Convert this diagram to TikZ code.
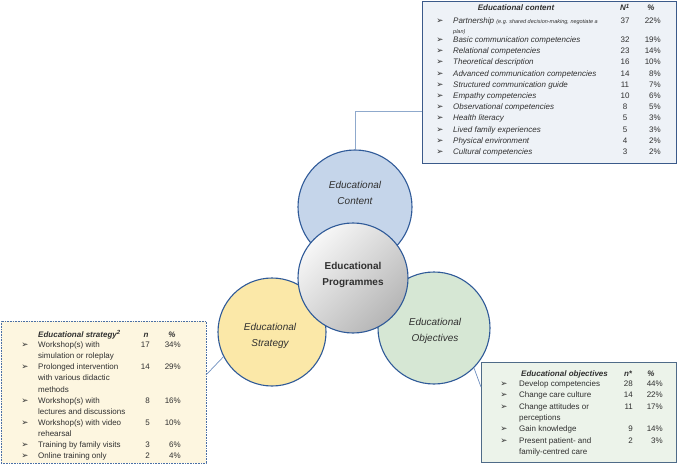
\documentclass[tikz,border=0pt]{standalone}
\usepackage{fontspec}
\setmainfont{Liberation Sans}
\newfontfamily\dv{DejaVu Sans}
\definecolor{txt}{HTML}{303030}
\definecolor{cfill}{HTML}{C5D5EA}
\definecolor{sfill}{HTML}{FBE8A8}
\definecolor{ofill}{HTML}{D6E7D4}
\definecolor{cborder}{HTML}{2F5A98}
\definecolor{cboxfill}{HTML}{EEF2F7}
\definecolor{cboxline}{HTML}{3B5A8A}
\definecolor{sboxfill}{HTML}{FDF6E0}
\definecolor{sboxline}{HTML}{4A6FA5}
\definecolor{oboxfill}{HTML}{ECF3EA}
\definecolor{oboxline}{HTML}{4F6B88}
\definecolor{conn}{HTML}{8FA9CC}
\definecolor{conn2}{HTML}{6F8FBF}
\tikzset{
  circ/.style={circle, draw=cborder, line width=1.1pt, inner sep=0},
  clabel/.style={align=center, text=txt, font=\itshape\fontsize{10}{15.5}\selectfont, inner sep=0},
  mlabel/.style={align=center, text=txt, font=\bfseries\fontsize{10}{15.3}\selectfont, inner sep=0},
  bul/.style={anchor=base, inner sep=0, text=txt, font=\dv\fontsize{8.5}{8.5}\selectfont},
  itm/.style={anchor=base west, inner sep=0, text=txt, font=\fontsize{8}{9.6}\selectfont},
  itmi/.style={itm, font=\itshape\fontsize{8}{9.6}\selectfont},
  num/.style={anchor=base, inner sep=0, text=txt, font=\fontsize{8}{9.6}\selectfont},
  numr/.style={anchor=base east, inner sep=0, text=txt, font=\fontsize{8}{9.6}\selectfont},
  hdr/.style={anchor=base, inner sep=0, text=txt, font=\bfseries\itshape\fontsize{8}{9.6}\selectfont},
  hdrw/.style={hdr, anchor=base west},
  boxnode/.style={anchor=north west, inner sep=0, outer sep=0},
}
\begin{document}
\begin{tikzpicture}[x=1pt, y=-1pt]
\useasboundingbox (0,0) rectangle (677,473);
% boxes
\node[boxnode, draw=cboxline, fill=cboxfill, line width=0.9pt, minimum width=254pt, minimum height=162pt] (cbox) at (422,1) {};
\node[boxnode, draw=sboxline, fill=sboxfill, line width=0.8pt, dash pattern=on 0.8pt off 0.8pt, minimum width=205pt, minimum height=142pt] (sbox) at (1,321) {};
\node[boxnode, draw=oboxline, fill=oboxfill, line width=0.9pt, minimum width=195pt, minimum height=100pt] (obox) at (481,362) {};
% circles
\node[circ, fill=cfill, minimum size=114pt] (cc) at (355,207) {};
\node[circ, fill=sfill, minimum size=108pt] (sc) at (272,332) {};
\node[circ, fill=ofill, minimum size=112pt] (oc) at (434,328) {};
\node[circ, top color=gray!6, bottom color=gray!58, shading angle=45, minimum size=110pt] (mc) at (353,278) {};
% circle labels
\node[clabel] (cct) at (355,193) {Educational\\Content};
\node[clabel] (sct) at (270,336) {Educational\\Strategy};
\node[clabel] (oct) at (435,331) {Educational\\Objectives};
\node[mlabel] (mct) at (353,275) {Educational\\Programmes};
% connectors
\coordinate (ck) at (422,111);
\coordinate (sk) at (206,375);
\coordinate (ok) at (481,387);
\draw[conn, line width=0.9pt] (cc.north) |- (ck);
\draw[conn2, line width=0.7pt] (sc.207) -- (sk);
\draw[conn2, line width=0.7pt] (oc.315) -- (ok);
% ---- content box
\node[hdr] (ch1) at (516,11) {Educational content};
\node[hdr] (ch2) at (625,11) {N\textsuperscript{1}};
\node[hdr] (ch3) at (651,11) {\%};
\node[bul] (cb1) at (440,23.5) {➢};
\node[itmi] (ct1) at (453,23.5) {Partnership \fontsize{5.5}{6}\selectfont(e.g. shared decision-making, negotiate a};
\node[itmi, font=\itshape\fontsize{5.5}{6}\selectfont] (ct1b) at (453,33.5) {plan)};
\node[num] (cn1) at (625,23.5) {37};
\node[numr] (cp1) at (661,23.5) {22\%};
\foreach \i/\t/\n/\p [count=\k from 0] in {
  2/Basic communication competencies/32/19,
  3/Relational competencies/23/14,
  4/Theoretical description/16/10,
  5/Advanced communication competencies/14/8,
  6/Structured communication guide/11/7,
  7/Empathy competencies/10/6,
  8/Observational competencies/8/5,
  9/Health literacy/5/3,
  10/Lived family experiences/5/3,
  11/Physical environment/4/2,
  12/Cultural competencies/3/2}{
  \pgfmathsetmacro\yy{42.5+\k*11.2}
  \node[bul] (cb\i) at (440,\yy) {➢};
  \node[itmi] (ct\i) at (453,\yy) {\t};
  \node[num] (cn\i) at (625,\yy) {\n};
  \node[numr] (cp\i) at (661,\yy) {\p\%};
}
% ---- strategy box
\node[hdrw] (sh1) at (38,337) {Educational strategy\textsuperscript{2}};
\node[hdr] (sh2) at (146,337) {n};
\node[hdr] (sh3) at (172,337) {\%};
\foreach \k/\t in {0/Workshop(s) with, 1/simulation or roleplay, 2/Prolonged intervention, 3/with various didactic, 4/methods, 5/Workshop(s) with, 6/lectures and discussions, 7/Workshop(s) with video, 8/rehearsal, 9/Training by family visits, 10/Online training only}{
  \pgfmathsetmacro\yy{347.5+\k*11.14}
  \node[itm] (st\k) at (38,\yy) {\t};
}
\foreach \k/\n/\p in {0/17/34, 2/14/29, 5/8/16, 7/5/10, 9/3/6, 10/2/4}{
  \pgfmathsetmacro\yy{347.5+\k*11.14}
  \node[bul] (sb\k) at (25,\yy) {➢};
  \node[numr] (sn\k) at (150,\yy) {\n};
  \node[numr] (sp\k) at (181,\yy) {\p\%};
}
% ---- objectives box
\node[hdrw] (oh1) at (521,376) {Educational objectives};
\node[hdr] (oh2) at (628,376) {n*};
\node[hdr] (oh3) at (651,376) {\%};
\foreach \k/\t in {0/Develop competencies, 1/Change care culture, 2/Change attitudes or, 3/perceptions, 4/Gain knowledge, 5/Present patient- and, 6/family-centred care}{
  \pgfmathsetmacro\yy{386.5+\k*11.3}
  \node[itm] (ot\k) at (519,\yy) {\t};
}
\foreach \k/\n/\p in {0/28/44, 1/14/22, 2/11/17, 4/9/14, 5/2/3}{
  \pgfmathsetmacro\yy{386.5+\k*11.3}
  \node[bul] (ob\k) at (504,\yy) {➢};
  \node[numr] (on\k) at (633,\yy) {\n};
  \node[numr] (op\k) at (663,\yy) {\p\%};
}
\end{tikzpicture}
\end{document}
